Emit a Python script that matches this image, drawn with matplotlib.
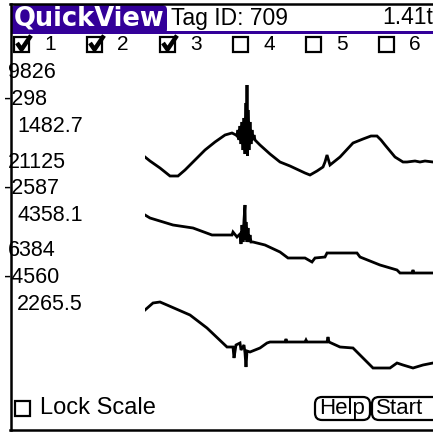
import matplotlib.pyplot as plt
from matplotlib.patches import Rectangle, FancyBboxPatch

# screen header
title = "QuickView"
tag_text = "Tag ID: 709"
time_text = "1.41t"
channels = ["1", "2", "3", "4", "5", "6"]
checked = [True, True, True, False, False, False]

# per-trace scale labels: max, min, current value
trace_max = ["9826", "21125", "6384"]
trace_min = ["-298", "-2587", "-4560"]
trace_now = ["1482.7", "4358.1", "2265.5"]

# traces, sample index vs display level
t1_x = [0, 5, 15, 25, 33, 40, 50, 60, 70, 80, 87, 91,
        92, 93, 94, 95, 96, 97, 98, 99, 100, 101, 101.5, 102, 102.5, 103, 104,
        105, 106, 107, 108, 109, 110, 115, 125, 135, 145,
        160, 165, 172, 178, 180, 182, 185, 195, 208, 218, 226, 232, 236, 240,
        250, 258, 262, 270, 275, 280, 288]
t1_y = [23, 19, 12, 4, 4, 10, 20, 30, 38, 45, 47, 45,
        44, 50, 40, 54, 36, 58, 30, 62, 26, 77, 28, 95, 24, 70, 30,
        58, 36, 50, 40, 45, 40, 35, 26, 18, 14,
        7, 5, 9, 13, 18, 25, 15, 23, 37, 41, 44, 44, 40, 35,
        23, 18, 18, 19, 18, 19, 18]

t2_x = [0, 5, 28, 48, 67, 87, 88, 92, 95, 96, 97, 98, 99, 100, 100.5, 101, 102,
        103, 104, 105, 106, 108, 120, 135, 143, 160, 167, 170, 180, 182, 212,
        215, 235, 252, 255, 267, 268, 269, 288]
t2_y = [65, 62, 55, 52, 45, 45, 48, 43, 46, 36, 55, 38, 60, 75, 40, 58, 38,
        52, 38, 45, 38, 38, 35, 28, 22, 22, 18, 22, 23, 27, 27,
        23, 15, 10, 7, 7, 10, 7, 7]

t3_x = [0, 8, 15, 22, 45, 62, 82, 88, 89, 91, 95, 96, 99, 100, 101, 102, 105,
        115, 122, 125, 140, 141, 142, 160, 161, 162, 182, 183, 184, 195, 208,
        228, 245, 252, 258, 268, 278, 288]
t3_y = [65, 72, 73, 70, 60, 47, 28, 28, 17, 30, 32, 25, 30, 22, 8, 24, 23,
        27, 32, 33, 33, 36, 33, 33, 35, 33, 33, 38, 33, 28, 27,
        7, 7, 12, 10, 7, 10, 12]

traces = [(t1_x, t1_y), (t2_x, t2_y), (t3_x, t3_y)]

W, H = 433, 432
purple = "#330099"
font = "Liberation Sans"

fig = plt.figure(figsize=(W / 100, H / 100), dpi=100)
ui = fig.add_axes([0, 0, 1, 1])
ui.set_xlim(0, W)
ui.set_ylim(H, 0)
ui.axis("off")

# everything right of the left frame line
inside = Rectangle((11, 0), W, H, transform=ui.transData, fc="none", ec="none")

# frame
ui.plot([10, W], [4, 4], color="black", lw=1.8)
ui.plot([10, W], [430, 430], color="black", lw=1.8)

# title tab and underline
ui.add_patch(FancyBboxPatch((11, 5), 156, 29, boxstyle="round,pad=0,rounding_size=5",
                            fc=purple, ec="none"))
ui.add_patch(Rectangle((11, 31), W - 11, 3, fc=purple, ec="none"))
ui.text(14, 18.5, title, color="white", fontsize=18.5, fontweight="bold",
        family="DejaVu Sans", va="center", ha="left")
ui.text(171, 18, tag_text, color="black", fontsize=16.5, family=font, va="center")
ui.text(382, 18, time_text, color="black", fontsize=16.5, family=font,
        va="center", ha="left")

# channel checkboxes
for i, (lab, on) in enumerate(zip(channels, checked)):
    bx = 14 + 73 * i
    ui.add_patch(Rectangle((bx, 36.5), 15, 15, fc="white", ec="black", lw=1.6))
    if on:
        ui.plot([bx + 3, bx + 7.5, bx + 17], [43, 49.5, 35.5], color="black", lw=3.2,
                solid_capstyle="butt")
    ui.text(bx + 36, 44, lab, fontsize=15, family=font, va="center", ha="center")

# scale labels, clipped by the frame line like on the device
for k in range(3):
    y0 = 73 + 89 * k
    for x, dy, s in [(8, 0, trace_max[k]), (4, 26.5, trace_min[k]), (17, 53.5, trace_now[k])]:
        t = ui.text(x, y0 + dy, s, fontsize=15.5, family=font, va="center", ha="left")
        t.set_clip_path(inside)
ui.plot([10.5, 10.5], [4, 430], color="black", lw=1.8)

# traces
bands = [(80, 180), (200, 280), (295, 375)]
for (tx, ty), (top, bot) in zip(traces, bands):
    ax = fig.add_axes([145 / W, 1 - bot / H, 288 / W, (bot - top) / H])
    ax.plot(tx, ty, color="black", lw=2, solid_joinstyle="miter")
    ax.set_xlim(0, 288)
    ax.set_ylim(0, bot - top)
    ax.axis("off")
    ax.patch.set_alpha(0)

# bottom controls
ui.add_patch(Rectangle((15, 400.5), 15, 15, fc="white", ec="black", lw=1.6))
ui.text(40, 408, "Lock Scale", fontsize=17, family=font, va="center")
ui.add_patch(FancyBboxPatch((315, 397), 55, 23, boxstyle="round,pad=0,rounding_size=7",
                            fc="white", ec="black", lw=1.6))
ui.text(342.5, 408.5, "Help", fontsize=16, family=font, va="center", ha="center")
ui.add_patch(FancyBboxPatch((372, 397), 75, 23, boxstyle="round,pad=0,rounding_size=7",
                            fc="white", ec="black", lw=1.6))
ui.text(376, 408.5, "Start", fontsize=16, family=font, va="center", ha="left")

fig.savefig("out.png", dpi=100)
